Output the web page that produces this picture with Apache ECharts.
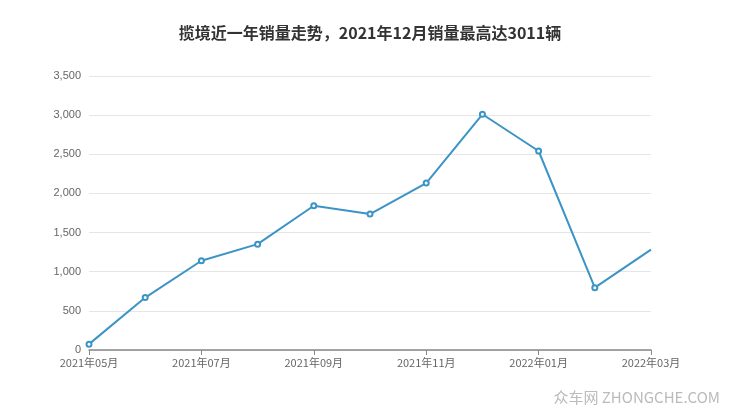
<!DOCTYPE html>
<html><head><meta charset="utf-8">
<script src="https://cdn.jsdelivr.net/npm/echarts@6/dist/echarts.min.js"></script>
<style>html,body{margin:0;padding:0;background:#fff}#c{width:740px;height:417px}</style>
</head><body><div id="c"></div>
<script>
const categories = ['2021年05月','2021年06月','2021年07月','2021年08月','2021年09月','2021年10月','2021年11月','2021年12月','2022年01月','2022年02月','2022年03月'];
const sales = [75, 670, 1140, 1352, 1843, 1737, 2133, 3011, 2542, 796, 1283];
const titleText = '揽境近一年销量走势，2021年12月销量最高达3011辆';
const watermark = '众车网 ZHONGCHE.COM';

const chart = echarts.init(document.getElementById('c'));
chart.setOption({
  animation: false,
  title: { text: titleText, left: 'center', top: 20,
    textStyle: { fontSize: 16, fontWeight: 'bold', color: '#333', fontFamily: 'Noto Sans CJK SC' } },
  graphic: [{ type: 'text', right: 20, top: 390,
    style: { text: watermark, fill: '#bbb', font: '15px "Noto Sans CJK SC"' } }],
  grid: { left: 89, right: 89, top: 76, bottom: 67 },
  xAxis: { type: 'category', data: categories, boundaryGap: false,
    axisLine: { lineStyle: { color: '#888', width: 1.5 } },
    axisTick: { show: true, interval: 1, lineStyle: { color: '#888' } },
    axisLabel: { interval: 1, color: '#666', fontSize: 11, margin: 7, fontFamily: 'Noto Sans CJK SC' },
    splitLine: { show: false } },
  yAxis: { type: 'value', min: 0, max: 3500, interval: 500,
    axisLine: { show: false }, axisTick: { show: false },
    axisLabel: { color: '#666', fontSize: 11, margin: 8 },
    splitLine: { lineStyle: { color: '#e6e6e6' } } },
  series: [{ type: 'line', data: sales.map((v, i) => i === sales.length - 1 ? { value: v, symbol: 'none' } : v),
    symbol: 'emptyCircle', symbolSize: 5, showAllSymbol: true,
    lineStyle: { color: '#3b94c6', width: 2 },
    itemStyle: { color: '#3b94c6', borderWidth: 1.5 } }]
});
</script></body></html>
